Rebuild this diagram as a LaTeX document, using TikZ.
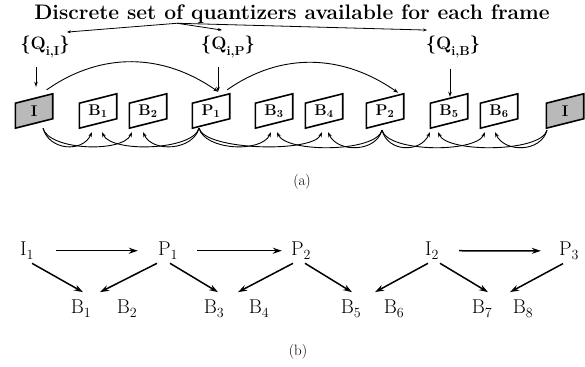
\documentclass[tikz,border=0pt]{standalone}
\usepackage{fontspec}
\usepackage{tikz}
\usetikzlibrary{shapes,backgrounds,arrows.meta,positioning,calc}

% lowered subscript for the quantizer sets
\newcommand{\qsub}[1]{\raisebox{-0.3em}{\fontsize{13}{13}\selectfont #1}}

\tikzset{
  ttl/.style={font=\fontsize{21}{24}\selectfont\bfseries, inner sep=2pt},
  qset/.style={font=\fontsize{18}{20}\selectfont\bfseries, inner sep=1pt},
  frm/.style={minimum width=37pt, minimum height=34pt, inner sep=0pt, font=\fontsize{15.5}{17}\selectfont\bfseries},
  frmline/.style={line width=1.6pt, line join=miter},
  ifill/.style={fill=gray!55},
  qarrow/.style={-{Stealth[length=5pt,width=3.5pt]}, line width=0.8pt},
  ptr/.style={-{Stealth[length=4pt,width=3pt]}, line width=0.8pt},
  toparc/.style={-{Stealth[length=5pt,width=3.5pt]}, line width=0.9pt},
  barc/.style={-{Stealth[length=5pt,width=3.5pt]}, line width=0.9pt},
  fwd/.style={out=-75, in=-115, min distance=23pt, max distance=23pt},
  bwd/.style={out=-105, in=-65, min distance=23pt, max distance=23pt},
  bl/.style={font=\fontsize{20}{22}\selectfont, anchor=base, inner sep=2pt},
  barrow/.style={-{Stealth[length=9pt,width=6pt]}, line width=1.5pt},
  captxt/.style={font=\fontsize{15}{17}\selectfont}
}

\begin{document}
\begin{tikzpicture}[x=1pt, y=1pt, >=Stealth]
  \useasboundingbox (0,0) rectangle (585,366);

  % Title and quantizer sets
  \node[ttl, anchor=base] (title) at (292,346) {Discrete set of quantizers available for each frame};
  \node[qset] (qi) at (45,319) {\{Q\qsub{i,I}\}};
  \node[qset] (qp) at (228,319) {\{Q\qsub{i,P}\}};
  \node[qset] (qb) at (453,319) {\{Q\qsub{i,B}\}};
  \coordinate (src) at ([shift={(-115pt,3pt)}]title.south);
  \draw[ptr] (src) -- ([shift={(22pt,3pt)}]qi.north);
  \draw[ptr] (src) -- ([shift={(-6pt,5pt)}]qp.north);
  \draw[ptr] (src) -- ([shift={(-26pt,5pt)}]qb.north);

  % Frames of the GOP
  \node[frm] (i1) at (34,255) {I};
  \node[frm] (b1) at (98,255) {B\textsubscript{1}};
  \node[frm] (b2) at (148,255) {B\textsubscript{2}};
  \node[frm] (p1) at (211,255) {P\textsubscript{1}};
  \node[frm] (b3) at (274,255) {B\textsubscript{3}};
  \node[frm] (b4) at (324,255) {B\textsubscript{4}};
  \node[frm] (p2) at (385,255) {P\textsubscript{2}};
  \node[frm] (b5) at (449,255) {B\textsubscript{5}};
  \node[frm] (b6) at (499,255) {B\textsubscript{6}};
  \node[frm] (i2) at (565,255) {I};

  \begin{pgfonlayer}{background}
    \draw[frmline, ifill] (i1.south west) -- ++(0,25) -- (i1.north east) -- ++(0,-25) -- cycle;
    \draw[frmline] (b1.south west) -- ++(0,25) -- (b1.north east) -- ++(0,-25) -- cycle;
    \draw[frmline] (b2.south west) -- ++(0,25) -- (b2.north east) -- ++(0,-25) -- cycle;
    \draw[frmline] (p1.south west) -- ++(0,25) -- (p1.north east) -- ++(0,-25) -- cycle;
    \draw[frmline] (b3.south west) -- ++(0,25) -- (b3.north east) -- ++(0,-25) -- cycle;
    \draw[frmline] (b4.south west) -- ++(0,25) -- (b4.north east) -- ++(0,-25) -- cycle;
    \draw[frmline] (p2.south west) -- ++(0,25) -- (p2.north east) -- ++(0,-25) -- cycle;
    \draw[frmline] (b5.south west) -- ++(0,25) -- (b5.north east) -- ++(0,-25) -- cycle;
    \draw[frmline] (b6.south west) -- ++(0,25) -- (b6.north east) -- ++(0,-25) -- cycle;
    \draw[frmline, ifill] (i2.south west) -- ++(0,25) -- (i2.north east) -- ++(0,-25) -- cycle;
  \end{pgfonlayer}

  % Quantizer set to frame type
  \draw[qarrow, shorten <=8pt] ([xshift=-9pt]qi.south) -- ([shift={(2pt,7pt)}]i1.north);
  \draw[qarrow, shorten <=8pt] ([xshift=-10pt]qp.south) -- ([shift={(7pt,2pt)}]p1.north);
  \draw[qarrow, shorten <=10pt] ([xshift=-3pt]qb.south) -- ([shift={(1pt,-3pt)}]b5.north);

  % Forward prediction of P frames
  \draw[toparc] ([shift={(-6pt,4pt)}]i1.north east) to[out=35,in=145] ([shift={(-11.5pt,2pt)}]p1.north east);
  \draw[toparc] ([shift={(-2.5pt,4pt)}]p1.north east) to[out=35,in=145] ([shift={(-5.5pt,1pt)}]p2.north east);

  % Bidirectional prediction of B frames
  \draw[barc] ([xshift=9pt]i1.south) to[fwd] ([shift={(-6pt,-4pt)}]b1.south);
  \draw[barc] ([xshift=9pt]i1.south) to[fwd] ([shift={(-16pt,-4pt)}]b2.south);
  \draw[barc] ([xshift=-12pt]p1.south) to[bwd] ([shift={(4pt,-4pt)}]b1.south);
  \draw[barc] ([xshift=-12pt]p1.south) to[bwd] ([shift={(-5pt,-4pt)}]b2.south);
  \draw[barc] ([xshift=-12pt]p1.south) to[fwd] ([shift={(-3pt,-4pt)}]b3.south);
  \draw[barc] ([xshift=-12pt]p1.south) to[fwd] ([shift={(-2pt,-4pt)}]b4.south);
  \draw[barc] ([shift={(-3pt,-2pt)}]p2.south) to[bwd] ([shift={(3pt,-4pt)}]b3.south);
  \draw[barc] ([shift={(-3pt,-2pt)}]p2.south) to[bwd] ([shift={(4pt,-4pt)}]b4.south);
  \draw[barc] ([shift={(-3pt,-2pt)}]p2.south) to[fwd] ([shift={(-19pt,-4pt)}]b5.south);
  \draw[barc] ([shift={(-3pt,-2pt)}]p2.south) to[fwd] ([shift={(-14pt,-4pt)}]b6.south);
  \draw[barc] ([shift={(-18pt,-2pt)}]i2.south) to[bwd] ([shift={(-11pt,-4pt)}]b5.south);
  \draw[barc] ([shift={(-18pt,-2pt)}]i2.south) to[bwd] ([shift={(-4pt,-4pt)}]b6.south);

  \node[captxt] (capa) at (302,184) {(a)};

  % Dependency graph
  \node[bl] (bi1) at (27,110) {I\textsubscript{1}};
  \node[bl] (bp1) at (168,110) {P\textsubscript{1}};
  \node[bl] (bp2) at (301,110) {P\textsubscript{2}};
  \node[bl] (bi2) at (432,110) {I\textsubscript{2}};
  \node[bl] (bp3) at (569,110) {P\textsubscript{3}};
  \node[bl] (bb1) at (81,52) {B\textsubscript{1}};
  \node[bl] (bb2) at (127,52) {B\textsubscript{2}};
  \node[bl] (bb3) at (214,52) {B\textsubscript{3}};
  \node[bl] (bb4) at (259,52) {B\textsubscript{4}};
  \node[bl] (bb5) at (351,52) {B\textsubscript{5}};
  \node[bl] (bb6) at (394,52) {B\textsubscript{6}};
  \node[bl] (bb7) at (482,52) {B\textsubscript{7}};
  \node[bl] (bb8) at (523,52) {B\textsubscript{8}};

  \draw[barrow, shorten <=20pt, shorten >=18pt] (bi1.east) -- (bp1.west);
  \draw[barrow, shorten <=17pt, shorten >=7pt] (bp1.east) -- (bp2.west);
  \draw[barrow, shorten <=18pt, shorten >=16pt] (bi2.east) -- (bp3.west);
  \draw[barrow] ([shift={(5pt,-2pt)}]bi1.south) -- ([shift={(2pt,6pt)}]bb1.north);
  \draw[barrow] ([shift={(-11pt,-2pt)}]bp1.south) -- ([shift={(19pt,6pt)}]bb1.north);
  \draw[barrow] ([shift={(2pt,-2pt)}]bp1.south) -- ([shift={(4pt,6pt)}]bb3.north);
  \draw[barrow] ([shift={(-8pt,-2pt)}]bp2.south) -- ([shift={(24pt,6pt)}]bb3.north);
  \draw[barrow] ([shift={(4pt,-2pt)}]bp2.south) -- ([shift={(1pt,6pt)}]bb5.north);
  \draw[barrow] ([shift={(-4pt,-2pt)}]bi2.south) -- ([shift={(24pt,6pt)}]bb5.north);
  \draw[barrow] ([shift={(8pt,-2pt)}]bi2.south) -- ([shift={(6pt,6pt)}]bb7.north);
  \draw[barrow] ([shift={(-6pt,-2pt)}]bp3.south) -- ([shift={(-13pt,6pt)}]bb8.north);

  \node[captxt] (capb) at (298,14) {(b)};
\end{tikzpicture}
\end{document}
